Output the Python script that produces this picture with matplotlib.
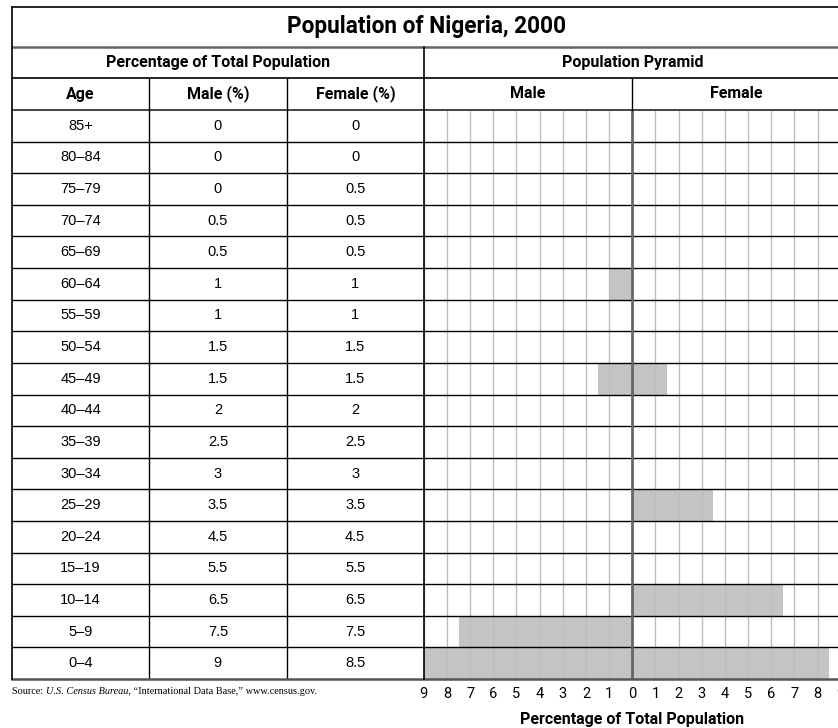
import numpy as np
import matplotlib.pyplot as plt

# ---------------------------------------------------
#   Data read off the worksheet
# ---------------------------------------------------
ages = ['85+', '80–84', '75–79', '70–74', '65–69', '60–64', '55–59', '50–54',
        '45–49', '40–44', '35–39', '30–34', '25–29', '20–24', '15–19',
        '10–14', '5–9', '0–4']
male_pct = [0, 0, 0, 0.5, 0.5, 1, 1, 1.5, 1.5, 2, 2.5, 3, 3.5, 4.5, 5.5, 6.5, 7.5, 9]
female_pct = [0, 0, 0.5, 0.5, 0.5, 1, 1, 1.5, 1.5, 2, 2.5, 3, 3.5, 4.5, 5.5, 6.5, 7.5, 8.5]

# only some rows of the pyramid are filled in
male_drawn = ['60–64', '45–49', '5–9', '0–4']
female_drawn = ['45–49', '25–29', '10–14', '0–4']

tick_values = list(range(-9, 10))

# ---------------------------------------------------
#   Layout (pixels, from top-left)
# ---------------------------------------------------
W, H = 838, 728
TOP, T1, T2, T3, BOT = 7, 47, 78, 110, 679
LEFT, C1, C2, C3, ZERO, RIGHT = 12, 149, 287, 423.8, 632.3, 840.8

narrow = ['Roboto', 'DejaVu Sans']
plain = ['Liberation Sans', 'DejaVu Sans']
serif = ['Liberation Serif', 'DejaVu Serif']
plt.rcParams['font.family'] = narrow

fig = plt.figure(figsize=(W / 100, H / 100), dpi=100)
fig.patch.set_facecolor('white')


def fx(px):
    return px / W


def fy(py):
    return 1 - py / H


n = len(ages)
rows = np.arange(n)

# ---------------------------------------------------
#   Left table
# ---------------------------------------------------
tab = fig.add_axes([fx(LEFT), fy(BOT), fx(C3) - fx(LEFT), fy(T3) - fy(BOT)])
tab.set_xlim(0, 3)
tab.set_ylim(n - 0.5, -0.5)
tab.axis('off')
for i in rows:
    tab.text(0.5, i, ages[i], ha='center', va='center', fontsize=10.5, family=plain)
    tab.text(1.5, i, f'{male_pct[i]:g}', ha='center', va='center', fontsize=10.5, family=plain)
    tab.text(2.5, i, f'{female_pct[i]:g}', ha='center', va='center', fontsize=10.5, family=plain)
for k in range(n - 1):
    tab.axhline(k + 0.5, color='black', lw=1)
for c in (1, 2):
    tab.axvline(c, color='black', lw=1)

# ---------------------------------------------------
#   Pyramid
# ---------------------------------------------------
pyr = fig.add_axes([fx(C3), fy(BOT), fx(RIGHT) - fx(C3), fy(T3) - fy(BOT)])
pyr.set_xlim(-9, 9)
pyr.set_ylim(n - 0.5, -0.5)
pyr.set_facecolor('none')

m_idx = [ages.index(a) for a in male_drawn]
f_idx = [ages.index(a) for a in female_drawn]
pyr.barh(m_idx, [-male_pct[i] for i in m_idx], height=1.0, color='#c4c4c4', zorder=1)
pyr.barh(f_idx, [female_pct[i] for i in f_idx], height=1.0, color='#c4c4c4', zorder=1)

for t in tick_values:
    if t != 0:
        pyr.axvline(t, color='#bdbdbd', lw=1, zorder=2)
for k in range(n - 1):
    pyr.axhline(k + 0.5, color='black', lw=1, zorder=3)
pyr.axvline(0, color='#666666', lw=2, zorder=4)

for s in pyr.spines.values():
    s.set_visible(False)
pyr.set_yticks([])
pyr.set_xticks(tick_values)
pyr.set_xticklabels([str(abs(t)) for t in tick_values])
pyr.tick_params(axis='x', length=0, pad=6, labelsize=10.5)
pyr.set_xlabel('Percentage of Total Population', fontsize=11.5,
               fontweight='bold', labelpad=8)

# ---------------------------------------------------
#   Header and borders (drawn on top, pixel coords)
# ---------------------------------------------------
frame = fig.add_axes([0, 0, 1, 1])
frame.set_xlim(0, W)
frame.set_ylim(H, 0)
frame.axis('off')
frame.set_zorder(5)
frame.patch.set_visible(False)

frame.plot([LEFT, RIGHT], [TOP, TOP], color='black', lw=1.2)
frame.plot([LEFT, RIGHT], [T1, T1], color='#666666', lw=1.8)
frame.plot([LEFT, RIGHT], [T2, T2], color='black', lw=1.2)
frame.plot([LEFT, RIGHT], [T3, T3], color='#444444', lw=1.4)
frame.plot([LEFT, RIGHT], [BOT, BOT], color='#555555', lw=1.8)
frame.plot([LEFT, LEFT], [TOP, BOT], color='black', lw=1.2)
frame.plot([C3, C3], [T1, BOT], color='black', lw=1.2)
frame.plot([C1, C1], [T2, T3], color='black', lw=1)
frame.plot([C2, C2], [T2, T3], color='black', lw=1)
frame.plot([ZERO, ZERO], [T2, T3], color='black', lw=1)

frame.text((LEFT + RIGHT) / 2, (TOP + T1) / 2, 'Population of Nigeria, 2000',
           ha='center', va='center', fontsize=16.3, fontweight='bold')
frame.text((LEFT + C3) / 2, (T1 + T2) / 2, 'Percentage of Total Population',
           ha='center', va='center', fontsize=11.5, fontweight='bold')
frame.text((C3 + RIGHT) / 2, (T1 + T2) / 2, 'Population Pyramid',
           ha='center', va='center', fontsize=11.5, fontweight='bold')
for x0, x1, lab in [(LEFT, C1, 'Age'), (C1, C2, 'Male (%)'), (C2, C3, 'Female (%)'),
                    (C3, ZERO, 'Male'), (ZERO, RIGHT, 'Female')]:
    frame.text((x0 + x1) / 2, (T2 + T3) / 2, lab, ha='center', va='center',
               fontsize=11.5, fontweight='bold')

# source line, with the agency name in italics
s1 = frame.text(LEFT, 691, 'Source: ', ha='left', va='center', fontsize=7.4, family=serif)
s2 = frame.annotate('U.S. Census Bureau,', xy=(1, 0), xycoords=s1, va='bottom',
                    fontsize=7.4, family=serif, style='italic')
frame.annotate(' \u201cInternational Data Base,\u201d www.census.gov.', xy=(1, 0),
               xycoords=s2, va='bottom', fontsize=7.4, family=serif)

fig.savefig('out.png', dpi=100)
